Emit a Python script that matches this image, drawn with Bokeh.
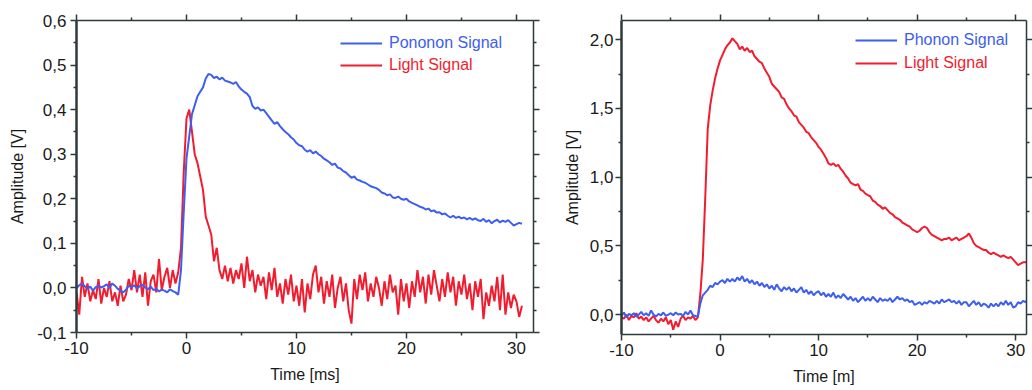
import numpy as np
from bokeh.plotting import figure
from bokeh.layouts import row
from bokeh.models import (LinearAxis, FixedTicker, CustomJSTickFormatter, Range1d,
                          Legend, LegendItem)
from bokeh.embed import file_html
from bokeh.resources import INLINE

# ---------------- data ----------------
T_START_MS = -10.0
SAMPLE_STEP_MS = 0.25

left_phonon = [
    0.000, 0.006, 0.010, 0.004, -0.002, 0.003, -0.006, 0.002, 0.005, 0.001,
    0.004, 0.008, 0.000, 0.010, 0.005, -0.002, -0.006, -0.010, -0.004, 0.005,
    0.002, 0.006, -0.001, 0.004, 0.007, 0.001, -0.003, 0.003, -0.005, -0.002,
    -0.008, -0.004, -0.006, -0.010, -0.003, -0.007, -0.010, -0.015,
    0.04, 0.17, 0.29, 0.34, 0.39, 0.41, 0.43, 0.44, 0.45, 0.47, 0.48,
    0.478, 0.471, 0.474,
    0.468, 0.472, 0.465, 0.463, 0.461, 0.458, 0.462, 0.452,
    0.445, 0.440, 0.436, 0.428, 0.408, 0.402, 0.405, 0.398,
    0.400, 0.392, 0.384, 0.376, 0.368, 0.372, 0.363, 0.356,
    0.350, 0.345, 0.338, 0.333, 0.325, 0.320, 0.318, 0.310,
    0.306, 0.309, 0.302, 0.306, 0.300, 0.296, 0.290, 0.286,
    0.282, 0.276, 0.279, 0.270, 0.268, 0.262, 0.259, 0.253,
    0.247, 0.250, 0.243, 0.241, 0.238, 0.236, 0.232, 0.228,
    0.226, 0.224, 0.220, 0.214, 0.212, 0.208, 0.210, 0.203,
    0.202, 0.205, 0.200, 0.198, 0.200, 0.194, 0.191, 0.188,
    0.185, 0.182, 0.180, 0.176, 0.178, 0.172, 0.174, 0.169,
    0.170, 0.165, 0.167, 0.162, 0.158, 0.162, 0.157, 0.160,
    0.156, 0.158, 0.154, 0.157, 0.153, 0.156, 0.152, 0.150,
    0.155, 0.148, 0.152, 0.145, 0.150, 0.153, 0.147, 0.151,
    0.148, 0.152, 0.146, 0.140, 0.143, 0.146, 0.144,
]

left_light = [
    -0.010, -0.060, 0.025, -0.020, 0.010, -0.030, -0.005, -0.025, 0.020, -0.035,
    0.000, -0.020, 0.015, -0.030, -0.010, -0.040, 0.005, -0.030, -0.015, 0.020,
    -0.005, 0.040, -0.010, 0.030, -0.020, 0.035, -0.040, 0.015, 0.030, -0.010,
    0.065, -0.005, 0.025, 0.045, 0.000, 0.040, 0.010, 0.035,
    0.09, 0.26, 0.38, 0.40, 0.35, 0.30, 0.28, 0.25, 0.22, 0.16, 0.14, 0.12,
    0.06, 0.09, 0.04, 0.02, 0.05,
    0.015,
    0.045, 0.010, 0.040, 0.020, 0.055, 0.000, 0.070, 0.015,
    0.040, -0.010, 0.030, 0.005, 0.025, -0.025, 0.035, -0.005,
    0.045, -0.020, 0.010, -0.035, 0.020, -0.015, 0.030, -0.030,
    0.005, -0.040, 0.020, -0.055, 0.010, -0.025, 0.030, 0.050,
    -0.010, 0.025, -0.035, 0.015, -0.020, 0.030, -0.045, 0.000,
    0.025, -0.030, 0.010, -0.050, -0.080, 0.020, -0.025, 0.030,
    -0.005, 0.035, -0.030, 0.010, -0.020, 0.025, 0.000, -0.040,
    0.015, -0.025, 0.030, -0.010, 0.005, -0.060, 0.020, -0.030,
    0.010, -0.045, 0.015, -0.020, 0.040, -0.010, 0.025, -0.035,
    0.030, -0.015, 0.040, 0.005, -0.030, 0.020, -0.020, 0.035,
    -0.010, 0.025, -0.040, 0.015, -0.015, 0.030, -0.025, 0.010,
    -0.050, 0.015, -0.020, 0.020, -0.070, -0.010, -0.040, 0.005,
    -0.030, 0.025, -0.050, 0.030, -0.060, -0.010, -0.045, -0.015,
    -0.030, -0.065, -0.040,
]

right_phonon = [
    -0.010, 0.015, -0.020, 0.005, -0.005, 0.010, -0.015, 0.000, 0.020, -0.005,
    0.010, -0.010, 0.030, 0.000, -0.015, 0.005, -0.005, 0.015, -0.010, 0.000,
    0.010, -0.005, 0.015, 0.000, 0.005, -0.010, 0.020, 0.000, 0.030, -0.005,
    -0.010,
    -0.015, 0.08, 0.14, 0.16, 0.18, 0.21, 0.20, 0.23, 0.22, 0.24, 0.25,
    0.23, 0.26, 0.24, 0.26, 0.24, 0.27, 0.25, 0.28, 0.24, 0.26, 0.23,
    0.25, 0.22, 0.24,
    0.21, 0.23, 0.20, 0.22, 0.19, 0.21, 0.18, 0.22,
    0.19, 0.17, 0.20, 0.18, 0.20, 0.17, 0.19, 0.16,
    0.18, 0.20, 0.16, 0.18, 0.15, 0.17, 0.14, 0.16,
    0.17, 0.14, 0.16, 0.13, 0.15, 0.13, 0.16, 0.12,
    0.14, 0.12, 0.15, 0.13, 0.11, 0.13, 0.10, 0.12,
    0.09, 0.11, 0.13, 0.10, 0.12, 0.10, 0.13, 0.11,
    0.09, 0.12, 0.10, 0.11, 0.10, 0.12, 0.09, 0.11,
    0.13, 0.11, 0.12, 0.10, 0.11, 0.09, 0.10, 0.07,
    0.08, 0.09, 0.07, 0.09, 0.08, 0.10, 0.09, 0.08,
    0.10, 0.08, 0.11, 0.09, 0.10, 0.11, 0.09, 0.10,
    0.08, 0.10, 0.07, 0.09, 0.09, 0.06, 0.08, 0.10,
    0.07, 0.09, 0.06, 0.08, 0.07, 0.05, 0.08, 0.06,
    0.08, 0.06, 0.09, 0.07, 0.10, 0.07, 0.09, 0.05,
    0.06, 0.09, 0.08, 0.10, 0.09, 0.11, 0.10,
]

right_light = [
    -0.020, -0.030, 0.000, -0.040, -0.010, -0.020, 0.010, -0.030, -0.015, -0.040,
    -0.020, -0.050, -0.030, -0.010, -0.040, -0.060, -0.030, -0.050, -0.020, -0.070,
    -0.040, -0.110, -0.050, -0.090, -0.030, -0.010, -0.040, -0.020, -0.030, -0.010,
    -0.040,
    -0.02, 0.15, 0.40, 0.85, 1.35, 1.52, 1.63, 1.72, 1.79, 1.85, 1.89,
    1.93, 1.96, 1.98, 2.01, 1.99, 1.97, 1.93, 1.95, 1.92, 1.94, 1.91,
    1.92, 1.88, 1.86,
    1.84, 1.83, 1.79, 1.76, 1.73, 1.68, 1.66, 1.64,
    1.62, 1.58, 1.57, 1.53, 1.50, 1.48, 1.45, 1.44,
    1.40, 1.38, 1.36, 1.33, 1.32, 1.29, 1.27, 1.25,
    1.22, 1.20, 1.17, 1.14, 1.10, 1.09, 1.10, 1.08,
    1.09, 1.06, 1.04, 1.01, 0.99, 0.96, 0.95, 0.94,
    0.95, 0.91, 0.90, 0.88, 0.87, 0.86, 0.83, 0.82,
    0.80, 0.79, 0.77, 0.78, 0.76, 0.74, 0.73, 0.71,
    0.70, 0.69, 0.67, 0.66, 0.65, 0.64, 0.62, 0.61,
    0.60, 0.61, 0.63, 0.64, 0.63, 0.60, 0.58, 0.57,
    0.56, 0.55, 0.54, 0.55, 0.55, 0.56, 0.54, 0.55,
    0.56, 0.54, 0.55, 0.56, 0.57, 0.59, 0.56, 0.52,
    0.50, 0.49, 0.48, 0.47, 0.47, 0.45, 0.44, 0.45,
    0.44, 0.43, 0.42, 0.43, 0.42, 0.41, 0.42, 0.40,
    0.38, 0.36, 0.37, 0.38, 0.38, 0.39, 0.40,
]

x_major_ticks = [-10, 0, 10, 20, 30]
x_minor_ticks = [-5, 5, 15, 25]
left_y_major_ticks = [-0.1, 0.0, 0.1, 0.2, 0.3, 0.4, 0.5, 0.6]
left_y_minor_ticks = [-0.05, 0.05, 0.15, 0.25, 0.35, 0.45, 0.55]
right_y_major_ticks = [0.0, 0.5, 1.0, 1.5, 2.0]
right_y_minor_ticks = [0.25, 0.75, 1.25, 1.75]

left_labels = ["Pononon Signal", "Light Signal"]
right_labels = ["Phonon Signal", "Light Signal"]
left_xlabel = "Time [ms]"
right_xlabel = "Time [m]"
ylabel = "Amplitude [V]"

# ---------------- style ----------------
BLUE = "#3d5ef0"
RED = "#f21c2e"
AXC = "#2c3a3a"
TXT = "#1a1a1a"
FONT = "Liberation Sans"

xfmt = CustomJSTickFormatter(code="return tick.toFixed(0);")
yfmt = CustomJSTickFormatter(code="return tick.toFixed(1).replace('.', ',');")
blankfmt = CustomJSTickFormatter(code="return '';")


def style_axis(ax, labelled, width):
    ax.axis_line_color = AXC
    ax.axis_line_width = width
    ax.major_tick_line_color = AXC
    ax.minor_tick_line_color = AXC
    ax.major_tick_line_width = 1.5
    ax.minor_tick_line_width = 1.5
    ax.major_tick_out = 6
    ax.major_tick_in = 0
    ax.minor_tick_out = 3
    ax.minor_tick_in = 0
    ax.major_label_text_font = FONT
    ax.major_label_text_color = TXT
    ax.major_label_text_font_size = "17px"
    ax.axis_label_text_font = FONT
    ax.axis_label_text_font_size = "16px"
    ax.axis_label_text_font_style = "normal"
    ax.axis_label_text_color = TXT
    if not labelled:
        ax.major_label_standoff = 0


def make_panel(phonon, light, labels, xlabel, xr, yr, ymaj, ymin,
               fw, fh, bl, br, bt, bb, leg_x, leg_y_top_blue, leg_y_top_red,
               ystand, ylab_stand):
    p = figure(frame_width=fw, frame_height=fh, x_range=Range1d(*xr), y_range=Range1d(*yr),
               output_backend="svg", toolbar_location=None,
               min_border_left=bl, min_border_right=br, min_border_top=bt, min_border_bottom=bb,
               x_axis_label=xlabel, y_axis_label=ylabel)
    p.grid.visible = False
    p.outline_line_color = None
    p.background_fill_color = "white"
    p.border_fill_color = "white"

    xa = p.xaxis[0]
    xa.ticker = FixedTicker(ticks=x_major_ticks, minor_ticks=x_minor_ticks)
    xa.formatter = xfmt
    style_axis(xa, True, 1.5)
    xa.major_label_standoff = 3
    xa.axis_label_standoff = 9

    ya = p.yaxis[0]
    ya.ticker = FixedTicker(ticks=ymaj, minor_ticks=ymin)
    ya.formatter = yfmt
    style_axis(ya, True, 2.5)
    ya.major_label_standoff = ystand
    ya.axis_label_standoff = ylab_stand

    top = LinearAxis(ticker=FixedTicker(ticks=x_major_ticks, minor_ticks=x_minor_ticks),
                     formatter=blankfmt)
    style_axis(top, False, 1.5)
    p.add_layout(top, "above")
    right = LinearAxis(ticker=FixedTicker(ticks=ymaj, minor_ticks=ymin), formatter=blankfmt)
    style_axis(right, False, 1.5)
    p.add_layout(right, "right")

    t_ph = T_START_MS + SAMPLE_STEP_MS * np.arange(len(phonon))
    t_li = T_START_MS + SAMPLE_STEP_MS * np.arange(len(light))
    r_li = p.line(t_li, light, line_color=RED, line_width=2.0)
    r_ph = p.line(t_ph, phonon, line_color=BLUE, line_width=2.0)

    for lab, rend, col, ytop in ((labels[0], r_ph, BLUE, leg_y_top_blue),
                                 (labels[1], r_li, RED, leg_y_top_red)):
        lg = Legend(items=[LegendItem(label=lab, renderers=[rend])],
                    location=(leg_x, fh - ytop - 20),
                    padding=0, margin=0, spacing=0,
                    border_line_color=None, background_fill_alpha=0,
                    glyph_width=42, glyph_height=20, label_height=20,
                    label_standoff=7, label_text_font=FONT,
                    label_text_font_size="16px", label_text_color=col)
        p.add_layout(lg)
    return p


p1 = make_panel(left_phonon, left_light, left_labels, left_xlabel,
                (-10, 31.55), (-0.1, 0.6), left_y_major_ticks, left_y_minor_ticks,
                457, 312, 76, 12, 20, 58, 264, 13, 35, 4, 8)
p2 = make_panel(right_phonon, right_light, right_labels, right_xlabel,
                (-10, 31.1), (-0.145, 2.14), right_y_major_ticks, right_y_minor_ticks,
                405, 314, 76, 6, 19, 57, 234, 10, 33, 2, 6)

layout = row(p1, p2, spacing=0)
open("out.html", "w").write(file_html(layout, INLINE))
